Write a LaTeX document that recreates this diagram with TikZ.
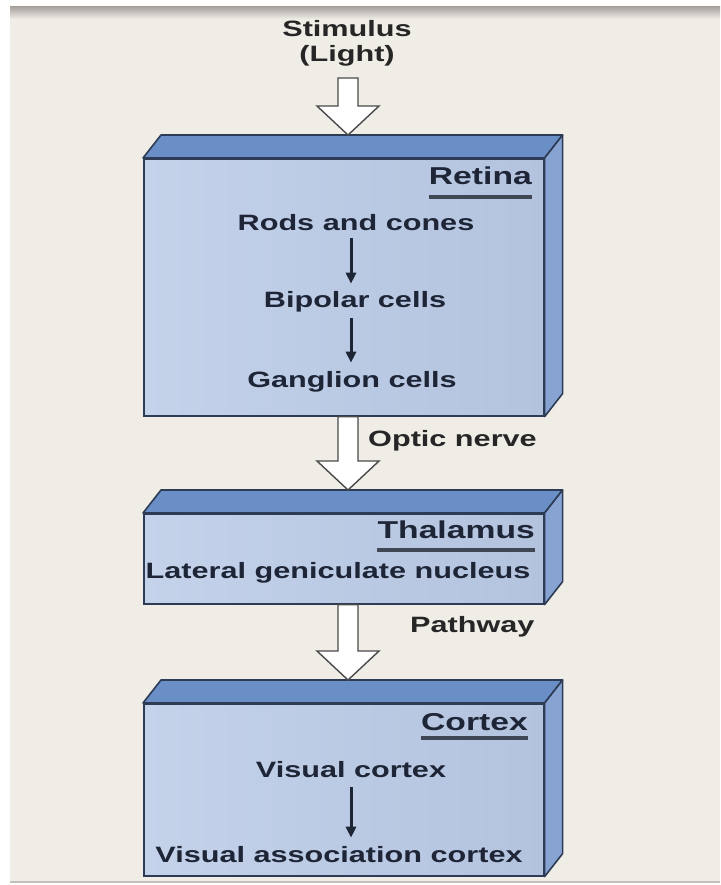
\documentclass[tikz,border=0pt]{standalone}
\usepackage{fontspec}
\usetikzlibrary{calc,arrows.meta}
\newfontfamily\labfont{Liberation Sans}[FakeStretch=1.38]

\definecolor{bg}{HTML}{F0ECE6}
\definecolor{barg}{HTML}{A9A4A0}
\definecolor{frontL}{HTML}{C4D2EA}
\definecolor{frontR}{HTML}{B3C3DE}
\definecolor{topblue}{HTML}{6A8EC6}
\definecolor{sideblue}{HTML}{86A3D2}
\definecolor{boxline}{HTML}{2E3B55}
\definecolor{ink}{HTML}{1E2536}
\definecolor{arrline}{HTML}{4A4A4A}

\tikzset{
  slabfront/.style={draw=boxline, line width=1.6pt, left color=frontL, right color=frontR,
    minimum width=400pt, inner sep=0pt, anchor=north west},
  slabtop/.style={draw=boxline, line width=1.6pt, fill=topblue, line join=round},
  slabside/.style={draw=boxline, line width=1.6pt, fill=sideblue, line join=round},
  body/.style={font=\labfont\bfseries\fontsize{22.2}{26}\selectfont, text=ink, inner sep=0pt, anchor=base},
  outer/.style={font=\labfont\bfseries\fontsize{22.2}{26}\selectfont, text=black!85, inner sep=0pt},
  boxtitle/.style={font=\labfont\bfseries\fontsize{24.4}{28}\selectfont, text=ink, inner sep=0pt, anchor=base east},
  uline/.style={draw=ink!85, line width=3.2pt},
  hollow/.style={draw=arrline, line width=1.4pt, fill=white, line join=miter},
  smallarrow/.style={draw=ink, line width=3pt, -{Triangle[length=11pt,width=10pt]}},
}

% a box drawn as a slab: front face node, top face and right side face
\newcommand\slab[3]{% name, front top-left corner, front height
  \node[slabfront, minimum height=#3] (#1) at (#2) {};
  \filldraw[slabtop] (#1.north west) -- ++(18,-23) -- ($(#1.north east)+(18,-23)$) -- (#1.north east) -- cycle;
  \filldraw[slabside] (#1.north east) -- ++(18,-23) -- ($(#1.south east)+(18,-23)$) -- (#1.south east) -- cycle;
}

% broad hollow block arrow from #1 down to the tip at #2
\newcommand\hollowarrow[2]{%
  \draw[hollow] let \p1=(#1), \p2=(#2) in
    (\x2-10pt,\y1) -- (\x2-10pt,\y2+29pt) -- (\x2-31pt,\y2+29pt) -- (\x2,\y2)
    -- (\x2+31pt,\y2+29pt) -- (\x2+10pt,\y2+29pt) -- (\x2+10pt,\y1) -- cycle;
}

\begin{document}
\begin{tikzpicture}[x=1pt,y=-1pt]
\useasboundingbox (0,0) rectangle (720,885);
% page frame
\fill[white] (0,0) rectangle (720,885);
\fill[bg] (10,7) rectangle (720,883);
\shade[top color=barg, bottom color=bg] (10,7) rectangle (720,19);
\fill[barg!70] (10,881) rectangle (720,883);

% column of the flow arrows
\coordinate (col) at (348,0);
\coordinate (col2) at (351,0);

% stimulus
\node[outer, anchor=base] (stim) at (347,37) {Stimulus};
\node[outer, anchor=base] (light) at (347,62) {(Light)};
\coordinate (s1) at (348,78);

% boxes
\slab{retina}{143,158}{257}
\slab{thal}{143,513}{90}
\slab{cortex}{143,703}{172}

% retina contents
\node[boxtitle] (rt) at (532,185) {Retina};
\draw[uline] ($(rt.base west)+(0,12)$) -- ($(rt.base east)+(0,12)$);
\node[body] (rods) at (356,230) {Rods and cones};
\node[body] (bip) at (355,307) {Bipolar cells};
\node[body] (gang) at (352,387) {Ganglion cells};
\draw[smallarrow, shorten <=8pt, shorten >=7pt] (rods.south -| col2) -- (bip.north -| col2);
\draw[smallarrow, shorten <=6pt, shorten >=8pt] (bip.south -| col2) -- (gang.north -| col2);

% thalamus contents
\node[boxtitle] (tt) at (535,538) {Thalamus};
\draw[uline] ($(tt.base west)+(0,12)$) -- ($(tt.base east)+(0,12)$);
\node[body] (lgn) at (338,578) {Lateral geniculate nucleus};

% cortex contents
\node[boxtitle] (ct) at (528,730) {Cortex};
\draw[uline] ($(ct.base west)+(0,8)$) -- ($(ct.base east)+(0,8)$);
\node[body] (vc) at (351,777) {Visual cortex};
\node[body] (vac) at (339,862) {Visual association cortex};
\draw[smallarrow, shorten <=10pt, shorten >=8pt] (vc.south -| col2) -- (vac.north -| col2);

% block arrows between stages
\hollowarrow{s1}{$(retina.north -| col)+(0,-23)$}
\hollowarrow{retina.south -| col}{$(thal.north -| col)+(0,-23)$}
\hollowarrow{thal.south -| col}{$(cortex.north -| col)+(0,-23)$}

% arrow labels
\node[outer, anchor=base west] (optic) at (368,446) {Optic nerve};
\node[outer, anchor=base west] (path) at (410,632) {Pathway};
\end{tikzpicture}
\end{document}
